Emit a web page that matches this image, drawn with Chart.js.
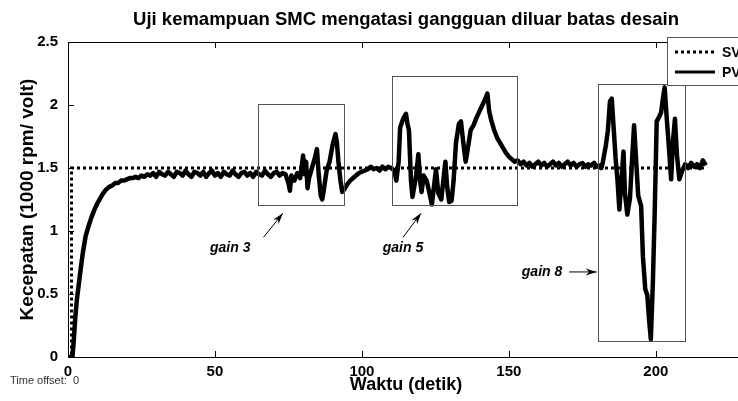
<!DOCTYPE html>
<html><head><meta charset="utf-8">
<script src="https://cdn.jsdelivr.net/npm/chart.js@4.4.1/dist/chart.umd.min.js"></script>
<style>
html,body{margin:0;padding:0;background:#fff;overflow:hidden;width:738px;height:401px}
#wrap{position:absolute;left:0;top:0;width:750px;height:401px}
</style></head><body><div id="wrap"><canvas id="c" width="750" height="401"></canvas></div>
<script>
// ---- data ----
const xTicks = [0, 50, 100, 150, 200];
const yTicks = [0, 0.5, 1, 1.5, 2, 2.5];
const svTime  = [0, 1.2, 1.2, 217];
const svValue = [0, 0, 1.5, 1.5];
const pvTime = [
 0,1,1.5,2,2.5,3,4,5,6,7,8,9,10,11,12,13,14,15,16,17,18,19,20,21,22,23,24,25,26,27,28,29,30,31,32,33,34,35,36,37,38,39,40,41,42,43,44,45,46,47,48,49,50,51,52,53,54,55,56,57,58,59,60,61,62,63,64,65,66,67,68,69,70,71,72,73,
 74,75,75.5,76,77,78,79,80,80.5,81,81.5,82,83,84,84.7,85.3,86,86.5,87,88,89,90,91,91.5,92,92.7,93.3,94,95,96,97,98,99,100,101,102,103,104,105,106,107,108,109,110,
 111,111.7,112.5,113,114,115,115.5,116,116.7,117.2,117.8,118.5,119.2,119.8,120.3,121,122,123,123.8,124.5,125.2,126,127,127.7,128.4,129,129.7,130.5,131.2,132,133,133.7,134.5,135.3,136,137,138,139,140,141,142,142.7,143.3,144,145,146,147,148,149,150,151,152,153,154,155,156,157,158,159,160,161,162,163,164,165,166,167,168,169,170,171,172,173,174,175,176,177,178,179,180,
 181,181.5,182,183,183.7,184.4,185,185.7,186.3,187,187.6,188.3,189,189.5,190.3,191.2,192,192.6,193.2,194,195,195.6,196.4,197.1,197.7,198.3,199,199.6,200.3,201,201.8,202.4,203,203.7,204.5,205.2,205.8,206.5,207.2,208,209,210,211,212,213,214,215,216,217
];
const pvValue = [
 0,0,0,0.14,0.32,0.45,0.64,0.82,0.96,1.04,1.11,1.17,1.22,1.26,1.30,1.33,1.35,1.36,1.38,1.38,1.40,1.40,1.41,1.42,1.42,1.43,1.42,1.44,1.43,1.45,1.44,1.46,1.43,1.47,1.45,1.44,1.47,1.45,1.43,1.47,1.46,1.44,1.48,1.45,1.43,1.47,1.46,1.44,1.47,1.43,1.46,1.48,1.44,1.46,1.43,1.47,1.45,1.44,1.48,1.45,1.43,1.46,1.47,1.44,1.46,1.43,1.47,1.45,1.44,1.48,1.45,1.43,1.46,1.47,1.44,1.46,
 1.45,1.38,1.32,1.44,1.40,1.46,1.42,1.60,1.45,1.55,1.34,1.42,1.50,1.58,1.65,1.45,1.28,1.25,1.32,1.48,1.55,1.68,1.77,1.70,1.55,1.40,1.31,1.33,1.37,1.40,1.42,1.44,1.46,1.47,1.48,1.49,1.51,1.49,1.50,1.48,1.51,1.49,1.51,1.50,
 1.48,1.40,1.55,1.82,1.89,1.93,1.85,1.80,1.40,1.27,1.35,1.45,1.61,1.40,1.31,1.44,1.40,1.30,1.21,1.35,1.49,1.30,1.25,1.40,1.55,1.35,1.23,1.24,1.40,1.70,1.85,1.87,1.70,1.55,1.65,1.80,1.84,1.90,1.95,2.00,2.05,2.09,1.95,1.88,1.80,1.74,1.70,1.66,1.62,1.59,1.57,1.55,1.56,1.53,1.55,1.52,1.54,1.51,1.53,1.55,1.52,1.54,1.51,1.53,1.55,1.52,1.54,1.51,1.53,1.55,1.52,1.54,1.51,1.53,1.54,1.51,1.53,1.52,1.54,1.51,1.52,
 1.50,1.55,1.68,1.80,2.03,2.05,1.80,1.58,1.39,1.17,1.40,1.63,1.30,1.13,1.26,1.60,1.84,1.60,1.28,1.20,0.80,0.54,0.49,0.30,0.14,0.60,1.13,1.87,1.90,1.94,2.05,2.14,1.90,1.65,1.41,1.70,1.89,1.60,1.41,1.48,1.53,1.50,1.54,1.51,1.53,1.50,1.56,1.52,1.50
];
const seriesLabels = ['SV', 'PV'];
const titleText = 'Uji kemampuan SMC mengatasi gangguan diluar batas desain';
const xTitle = 'Waktu (detik)';
const yTitle = 'Kecepatan (1000 rpm/ volt)';
const offsetText = 'Time offset:  0';
const gainLabels = ['gain 3', 'gain 5', 'gain 8'];

// ---- annotation geometry (data coordinates) ----
const boxes = [
  {x0: 64.6, x1: 93.9, y0: 1.21, y1: 2.01},
  {x0: 110.2, x1: 152.7, y0: 1.21, y1: 2.23},
  {x0: 180.3, x1: 209.9, y0: 0.13, y1: 2.17}
];
const notes = [
  {tx: 48.3, ty: 0.865, ax0: 66.5, ay0: 0.95, ax1: 73.1, ay1: 1.14},
  {tx: 107.1, ty: 0.865, ax0: 114, ay0: 0.95, ax1: 120.1, ay1: 1.14},
  {tx: 154.4, ty: 0.675, ax0: 170.5, ay0: 0.675, ax1: 179.9, ay1: 0.675}
];

const FONT = '"Liberation Sans", Arial, sans-serif';
const toXY = (ts, vs) => ts.map((t, i) => ({x: t, y: vs[i]}));

function arrow(ctx, x0, y0, x1, y1) {
  ctx.beginPath(); ctx.moveTo(x0, y0); ctx.lineTo(x1, y1); ctx.stroke();
  const a = Math.atan2(y1 - y0, x1 - x0), L = 11, W = 3.5;
  ctx.beginPath();
  ctx.moveTo(x1, y1);
  ctx.lineTo(x1 - L * Math.cos(a) + W * Math.sin(a), y1 - L * Math.sin(a) - W * Math.cos(a));
  ctx.lineTo(x1 - 0.7 * L * Math.cos(a), y1 - 0.7 * L * Math.sin(a));
  ctx.lineTo(x1 - L * Math.cos(a) - W * Math.sin(a), y1 - L * Math.sin(a) + W * Math.cos(a));
  ctx.closePath(); ctx.fill();
}

const decor = {
  id: 'decor',
  beforeDatasetsDraw(chart) {
    const {ctx, chartArea: a, scales: {x, y}} = chart;
    ctx.save();
    ctx.strokeStyle = '#000'; ctx.lineWidth = 1;
    ctx.strokeRect(Math.round(a.left) + 0.5, Math.round(a.top) + 0.5, Math.round(a.right - a.left), Math.round(a.bottom - a.top));
    xTicks.forEach(v => {
      const px = Math.round(x.getPixelForValue(v)) + 0.5;
      ctx.beginPath(); ctx.moveTo(px, a.bottom); ctx.lineTo(px, a.bottom - 6);
      ctx.moveTo(px, a.top); ctx.lineTo(px, a.top + 6); ctx.stroke();
    });
    yTicks.forEach(v => {
      const py = Math.round(y.getPixelForValue(v)) + 0.5;
      ctx.beginPath(); ctx.moveTo(a.left, py); ctx.lineTo(a.left + 6, py);
      ctx.moveTo(a.right, py); ctx.lineTo(a.right - 6, py); ctx.stroke();
    });
    ctx.restore();
  },
  afterDatasetsDraw(chart) {
    const {ctx, chartArea: a, scales: {x, y}} = chart;
    ctx.save();
    ctx.strokeStyle = '#555'; ctx.lineWidth = 1;
    boxes.forEach(b => {
      const l = Math.round(x.getPixelForValue(b.x0)) + 0.5, r = Math.round(x.getPixelForValue(b.x1)) + 0.5;
      const t = Math.round(y.getPixelForValue(b.y1)) + 0.5, bo = Math.round(y.getPixelForValue(b.y0)) + 0.5;
      ctx.strokeRect(l, t, r - l, bo - t);
    });
    ctx.fillStyle = '#000'; ctx.strokeStyle = '#000'; ctx.lineWidth = 1;
    ctx.font = 'italic bold 14px ' + FONT;
    ctx.textBaseline = 'middle'; ctx.textAlign = 'left';
    notes.forEach((n, i) => {
      ctx.fillText(gainLabels[i], x.getPixelForValue(n.tx), y.getPixelForValue(n.ty));
      arrow(ctx, x.getPixelForValue(n.ax0), y.getPixelForValue(n.ay0), x.getPixelForValue(n.ax1), y.getPixelForValue(n.ay1));
    });
    // legend
    const ds = chart.data.datasets;
    const lx = 667, ly = 37;
    ctx.fillStyle = '#fff';
    ctx.fillRect(lx, ly, 120, 48);
    ctx.strokeStyle = '#555';
    ctx.strokeRect(lx + 0.5, ly + 0.5, 120, 48);
    ctx.font = 'bold 14px ' + FONT; ctx.fillStyle = '#000';
    ds.forEach((d, i) => {
      const yy = ly + 15 + i * 20;
      ctx.save();
      ctx.strokeStyle = '#000'; ctx.lineWidth = 3;
      ctx.setLineDash(d.borderDash || []);
      ctx.beginPath(); ctx.moveTo(lx + 8, yy); ctx.lineTo(lx + 48, yy); ctx.stroke();
      ctx.restore();
      ctx.fillText(d.label, lx + 55, yy + 1);
    });
    // texts
    ctx.textAlign = 'center'; ctx.textBaseline = 'middle';
    const cx = (a.left + a.right) / 2;
    ctx.font = 'bold 18.5px ' + FONT;
    ctx.fillText(titleText, cx, 20);
    ctx.font = 'bold 18px ' + FONT;
    ctx.fillText(xTitle, cx, 385);
    ctx.save();
    ctx.translate(28, (a.top + a.bottom) / 2);
    ctx.rotate(-Math.PI / 2);
    ctx.font = 'bold 19px ' + FONT;
    ctx.fillText(yTitle, 0, 0);
    ctx.restore();
    ctx.textAlign = 'left';
    ctx.font = '11px ' + FONT; ctx.fillStyle = '#333';
    ctx.fillText(offsetText, 10, 381);
    ctx.restore();
  }
};

new Chart(document.getElementById('c'), {
  type: 'line',
  data: {
    datasets: [
      {label: seriesLabels[0], data: toXY(svTime, svValue), borderColor: '#000', borderWidth: 3, borderDash: [3, 3], pointRadius: 0, fill: false, tension: 0, borderCapStyle: 'butt'},
      {label: seriesLabels[1], data: toXY(pvTime, pvValue), borderColor: '#000', borderWidth: 4.5, pointRadius: 0, fill: false, tension: 0, borderJoinStyle: 'round'}
    ]
  },
  options: {
    responsive: false, animation: false, events: [],
    layout: {padding: {top: 42, right: 6, left: 0, bottom: 0}},
    plugins: {legend: {display: false}, tooltip: {enabled: false}},
    scales: {
      x: {type: 'linear', min: 0, max: 230,
          afterFit: s => { s.height = 44; },
          afterBuildTicks: s => { s.ticks = xTicks.map(v => ({value: v})); },
          grid: {display: false, drawTicks: false}, border: {display: false},
          ticks: {color: '#000', font: {family: FONT, weight: 'bold', size: 15}, padding: 6, maxRotation: 0, callback: v => String(v)}},
      y: {type: 'linear', min: 0, max: 2.5,
          afterFit: s => { s.width = 68; },
          afterBuildTicks: s => { s.ticks = yTicks.map(v => ({value: v})); },
          grid: {display: false, drawTicks: false}, border: {display: false},
          ticks: {color: '#000', font: {family: FONT, weight: 'bold', size: 15}, padding: 10, callback: v => String(v)}}
    }
  },
  plugins: [decor]
});
</script></body></html>
